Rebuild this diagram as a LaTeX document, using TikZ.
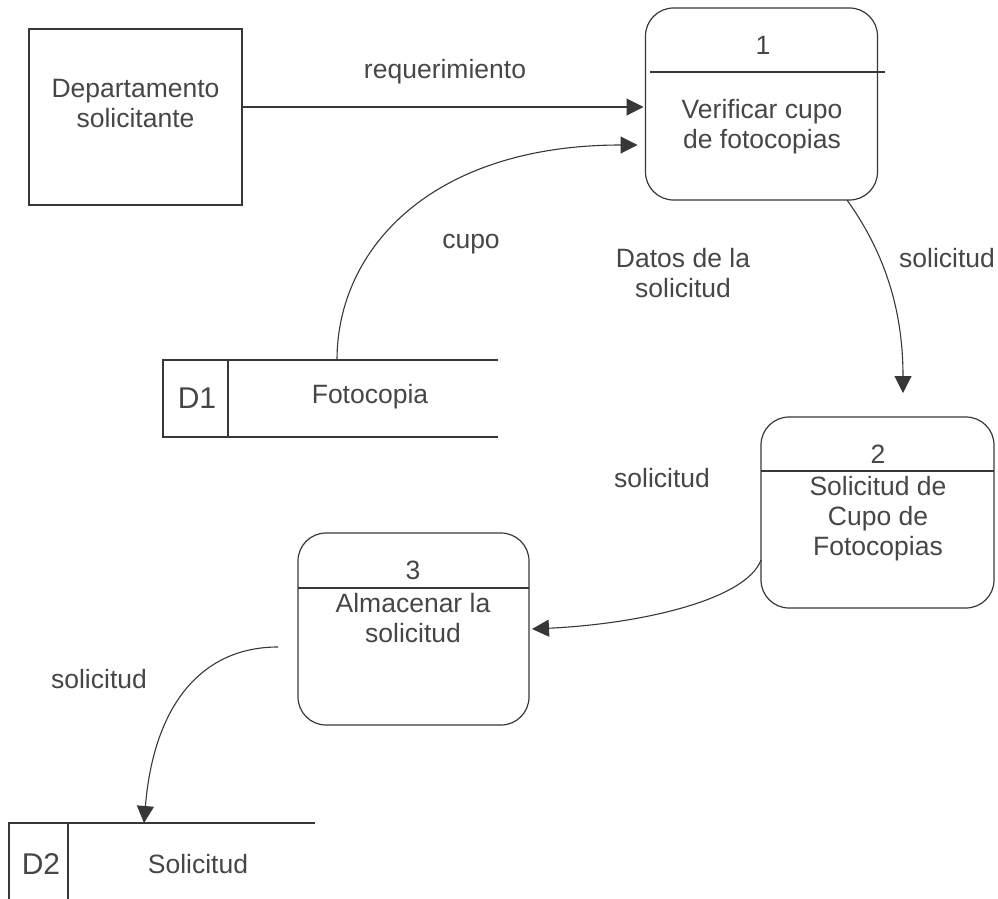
\documentclass[tikz,border=0pt]{standalone}
\usepackage{fontspec}
\setmainfont{Liberation Sans}
\usetikzlibrary{arrows.meta}
\definecolor{ink}{RGB}{55,55,55}
\definecolor{txt}{RGB}{70,70,70}
\begin{document}
\begin{tikzpicture}[x=1pt,y=-1pt,
  every node/.style={inner sep=0pt,outer sep=0pt},
  lbl/.style={anchor=base,text=txt,font=\fontsize{26.5}{30}\selectfont},
  biglbl/.style={anchor=base,text=txt,font=\fontsize{30}{34}\selectfont},
  proc/.style={draw=ink,line width=1.2pt,rounded corners=28pt,minimum width=232pt,minimum height=192pt},
  entity/.style={draw=ink,line width=1.2pt,minimum width=213pt,minimum height=176pt},
  line/.style={draw=ink,line width=1.2pt},
  flow/.style={draw=ink,line width=1.1pt,-{Triangle[length=17pt,width=17pt]}}
]
\useasboundingbox (0,0) rectangle (998,899);

% external entity
\node[entity] (dep) at (135.5,117) {};
\node[lbl] (depa) at (135.5,97) {Departamento};
\node[lbl] (depb) at (135.5,127) {solicitante};

% process 1
\node[proc] (p1) at (761.5,104) {};
\coordinate (p1l) at (650,72);
\coordinate (p1r) at (885,72);
\draw[line] (p1l) -- (p1r);
\node[lbl] (p1n) at (763,55) {1};
\node[lbl] (p1a) at (762,118) {Verificar cupo};
\node[lbl] (p1b) at (762,148) {de fotocopias};

% process 2
\node[proc,minimum width=233pt,minimum height=191pt] (p2) at (877.5,512.5) {};
\draw[line] (p2.west |- 0,471) -- (p2.east |- 0,471);
\node[lbl] (p2n) at (878,463) {2};
\node[lbl] (p2a) at (878,495) {Solicitud de};
\node[lbl] (p2b) at (878,525) {Cupo de};
\node[lbl] (p2c) at (878,555) {Fotocopias};

% process 3
\node[proc,minimum width=231pt] (p3) at (413.5,629) {};
\draw[line] (p3.west |- 0,588) -- (p3.east |- 0,588);
\node[lbl] (p3n) at (413,579) {3};
\node[lbl] (p3a) at (413,612) {Almacenar la};
\node[lbl] (p3b) at (413,642) {solicitud};

% data store D1
\node[minimum width=335pt,minimum height=77pt] (d1) at (330.5,398.5) {};
\draw[line] (d1.north east) -- (d1.north west) -- (d1.south west) -- (d1.south east);
\draw[line] ([xshift=65pt]d1.north west) -- ([xshift=65pt]d1.south west);
\node[biglbl] (d1id) at (197,408) {D1};
\node[lbl] (d1t) at (370,403) {Fotocopia};

% data store D2
\node[minimum width=306pt,minimum height=90pt] (d2) at (162,868) {};
\draw[line] (d2.north east) -- (d2.north west) -- (d2.south west);
\draw[line] ([xshift=59pt]d2.north west) -- ([xshift=59pt]d2.south west);
\node[biglbl] (d2id) at (41,874) {D2};
\node[lbl] (d2t) at (198,873) {Solicitud};

% flows
\draw[flow] ([yshift=10pt]dep.east) -- ([yshift=-3pt,xshift=-2pt]p1.west);
\node[lbl] (lreq) at (445,78) {requerimiento};

\draw[flow] ([xshift=6.5pt]d1.north) .. controls +(0,-112) and +(-205,0) .. ([yshift=-41pt,xshift=-8pt]p1.west);
\node[lbl] (lcupo) at (471,248) {cupo};

\node[lbl] (ldatosa) at (683,267) {Datos de la};
\node[lbl] (ldatosb) at (683,297) {solicitud};

\coordinate (t12) at ([xshift=25.5pt,yshift=24pt]p2.north);
\draw[flow] ([xshift=85.5pt]p1.south) .. controls +(43,60) and +(0,-73) .. (t12);
\node[lbl] (l12) at (947,267) {solicitud};

\draw[flow] ([yshift=-47.5pt]p2.west) .. controls +(-15,40) and +(108,-5) .. ([xshift=3pt]p3.east);
\node[lbl] (l23) at (662,487) {solicitud};

\draw[flow] ([xshift=-20pt,yshift=-18pt]p3.west) .. controls +(-75,0) and +(10,-120) .. ([xshift=-18pt]d2.north);
\node[lbl] (l3d) at (99,688) {solicitud};
\end{tikzpicture}
\end{document}
